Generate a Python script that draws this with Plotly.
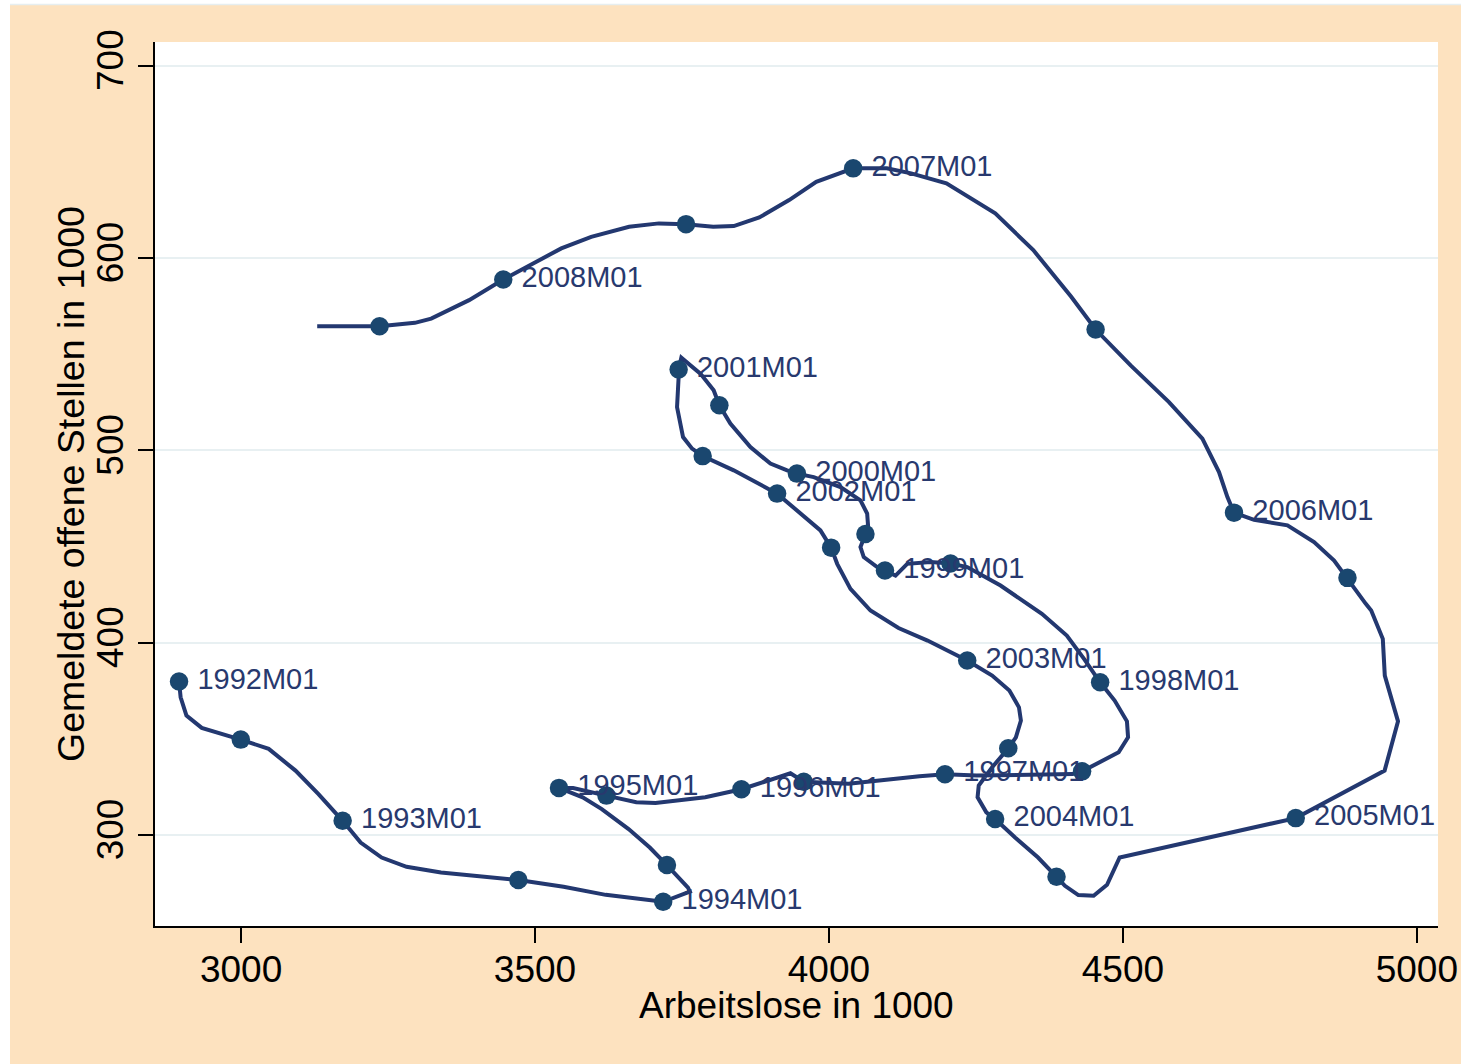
import plotly.graph_objects as go

# Beveridge curve path (Arbeitslose, offene Stellen, in 1000), 1992M01 -> 2008
path_x = [2894.5, 2897.2, 2907.1, 2933.1, 2999.5, 3047.0, 3092.6, 3131.7, 3172.8, 3203.4,
          3239.1, 3281.5, 3340.1, 3471.7, 3548.6, 3620.3, 3718.0, 3763.4, 3760.2, 3737.5,
          3724.4, 3695.2, 3659.2, 3613.6, 3581.1, 3540.8, 3564.8, 3621.5, 3672.3, 3704.9,
          3789.6, 3851.1, 3934.5, 3957.1, 4033.2, 4154.0, 4197.4, 4251.1, 4414.5, 4430.6,
          4492.8, 4508.8, 4506.9, 4486.0, 4461.3, 4433.9, 4404.6, 4362.2, 4329.7, 4291.9,
          4235.2, 4206.8, 4172.8, 4133.1, 4113.2, 4095.3, 4082.0, 4059.2, 4053.6, 4062.1,
          4066.7, 4065.0, 4053.6, 4019.6, 3974.1, 3945.5, 3928.9, 3900.4, 3866.4, 3832.3,
          3813.6, 3803.9, 3781.3, 3748.9, 3744.3, 3744.3, 3741.6, 3751.8, 3767.2, 3785.2,
          3838.0, 3911.8, 3951.5, 3985.5, 4003.7, 4014.0, 4036.6, 4070.6, 4118.3, 4167.7,
          4235.2, 4277.6, 4306.9, 4323.2, 4326.5, 4318.0, 4305.0, 4277.6, 4254.8, 4252.8,
          4267.7, 4282.7, 4316.6, 4355.7, 4387.1, 4401.4, 4424.2, 4450.2, 4473.0, 4494.5,
          4794.0, 4945.2, 4968.0, 4945.5, 4942.1, 4922.4, 4913.2, 4882.0, 4859.3, 4825.2,
          4779.9, 4723.1, 4689.0, 4677.8, 4663.5, 4635.2, 4578.4, 4513.2, 4453.6, 4412.1,
          4347.6, 4282.9, 4199.8, 4139.9, 4098.4, 4041.2, 3978.4, 3932.3, 3881.5, 3838.1,
          3803.1, 3756.9, 3710.8, 3660.1, 3595.6, 3544.7, 3446.0, 3387.9, 3323.4, 3295.7,
          3235.6, 3129.5]
path_y = [379.8, 371.6, 362.1, 355.7, 349.6, 344.8, 333.5, 321.3, 307.4, 296.1,
          288.3, 283.5, 280.5, 276.6, 273.1, 268.9, 265.3, 270.6, 272.7, 280.5,
          284.4, 293.5, 303.1, 313.5, 319.6, 324.5, 324.4, 320.5, 317.0, 316.6,
          319.6, 323.8, 332.1, 327.7, 326.7, 330.6, 331.6, 330.9, 331.7, 333.1,
          343.0, 350.8, 359.1, 369.9, 379.4, 391.6, 403.7, 415.0, 421.9, 429.7,
          439.3, 441.2, 441.9, 441.0, 434.9, 437.5, 439.3, 444.5, 449.7, 456.5,
          460.1, 467.1, 474.0, 480.9, 486.1, 487.9, 489.6, 493.1, 501.7, 513.9,
          523.4, 531.2, 539.9, 548.2, 542.0, 538.1, 522.5, 506.9, 500.9, 497.0,
          489.6, 477.5, 467.1, 458.4, 449.4, 441.0, 428.0, 416.7, 407.6, 401.1,
          390.7, 382.9, 375.1, 366.4, 359.5, 350.8, 345.1, 335.2, 325.7, 319.6,
          311.8, 308.3, 298.7, 288.3, 278.3, 273.6, 268.8, 268.4, 274.1, 288.3,
          308.8, 333.5, 359.1, 382.9, 402.0, 416.7, 420.2, 433.7, 442.7, 452.3,
          461.0, 463.9, 467.6, 475.7, 488.7, 506.1, 525.1, 544.2, 562.8, 579.8,
          604.1, 623.2, 638.8, 644.0, 646.6, 646.6, 639.6, 630.1, 621.1, 616.6,
          616.2, 617.6, 618.0, 616.2, 611.0, 605.0, 588.8, 578.1, 568.5, 566.3,
          564.5, 564.5]

# Half-yearly markers (January and July)
marker_x = [2894.5, 2999.5, 3172.8, 3471.7, 3718.0, 3724.4, 3540.8, 3621.5, 3851.1, 3957.1,
            4197.4, 4430.6, 4461.3, 4206.8, 4095.3, 4062.1, 3945.5, 3813.6, 3744.3, 3785.2,
            3911.8, 4003.7, 4235.2, 4305.0, 4282.7, 4387.1, 4794.0, 4882.0, 4689.0, 4453.6,
            4041.2, 3756.9, 3446.0, 3235.6]
marker_y = [379.8, 349.6, 307.4, 276.6, 265.3, 284.4, 324.5, 320.5, 323.8, 327.7,
            331.6, 333.1, 379.4, 441.2, 437.5, 456.5, 487.9, 523.4, 542.0, 497.0,
            477.5, 449.4, 390.7, 345.1, 308.3, 278.3, 308.8, 433.7, 467.6, 562.8,
            646.6, 617.6, 588.8, 564.5]
marker_labels = ["1992M01", "", "1993M01", "", "1994M01", "", "1995M01", "", "1996M01", "",
                 "1997M01", "", "1998M01", "", "1999M01", "", "2000M01", "", "2001M01", "",
                 "2002M01", "", "2003M01", "", "2004M01", "", "2005M01", "", "2006M01", "",
                 "2007M01", "", "2008M01", ""]

x_ticks = [3000, 3500, 4000, 4500, 5000]
y_ticks = [300, 400, 500, 600, 700]

W, H = 1461, 1064
ML, MR, MT, MB = 155, 23, 42, 138
PW, PH = W - ML - MR, H - MT - MB

LINE_C = "#233870"
MARK_C = "#1a476f"
TEXT_C = "#28396e"
BG = "#fde2bf"
FONT = "Liberation Sans, Arial, sans-serif"

fig = go.Figure()
fig.add_trace(go.Scatter(x=path_x, y=path_y, mode="lines",
                         line=dict(color=LINE_C, width=4), hoverinfo="skip",
                         showlegend=False))
fig.add_trace(go.Scatter(x=marker_x, y=marker_y, mode="markers+text",
                         text=["\u2009" + t if t else "" for t in marker_labels],
                         textposition="middle right",
                         textfont=dict(family=FONT, size=29, color=TEXT_C),
                         marker=dict(color=MARK_C, size=18.5, line=dict(width=0)),
                         showlegend=False))

def px_x(p):
    return (p - ML) / PW

def px_y(p):
    return (H - MB - p) / PH

shapes = [
    dict(type="rect", xref="paper", yref="paper", x0=px_x(0), x1=px_x(10),
         y0=px_y(H), y1=px_y(0), fillcolor="white", line=dict(width=0), layer="above"),
    dict(type="rect", xref="paper", yref="paper", x0=px_x(0), x1=px_x(W),
         y0=px_y(4), y1=px_y(0), fillcolor="white", line=dict(width=0), layer="above"),
    dict(type="line", xref="paper", yref="paper", x0=px_x(10), x1=px_x(W),
         y0=px_y(4.5), y1=px_y(4.5), line=dict(color="#e6eef0", width=1.5), layer="above"),
]

fig.update_layout(
    width=W, height=H, autosize=False,
    margin=dict(l=ML, r=MR, t=MT, b=MB, pad=0, autoexpand=False),
    paper_bgcolor=BG, plot_bgcolor="white",
    font=dict(family=FONT, color="black"),
    shapes=shapes,
    annotations=[
        dict(text="Arbeitslose in 1000", xref="paper", yref="paper", x=0.5, y=0,
             xanchor="center", yanchor="middle", yshift=-(1005 - (H - MB)),
             showarrow=False, font=dict(family=FONT, size=37, color="black")),
        dict(text="Gemeldete offene Stellen in 1000", xref="paper", yref="paper",
             x=0, y=0.5, xanchor="center", yanchor="middle", xshift=71 - ML,
             textangle=-90, showarrow=False,
             font=dict(family=FONT, size=37.5, color="black")),
    ],
)
fig.update_xaxes(range=[2853.6, 5036.0], tickvals=x_ticks, ticks="outside", ticklen=15,
                 tickwidth=2, tickcolor="black", showline=True, linecolor="black",
                 linewidth=2, showgrid=False, zeroline=False, ticklabelstandoff=-5,
                 automargin=False, ticklabeloverflow="allow",
                 tickfont=dict(family=FONT, size=37, color="black"))
fig.update_yaxes(range=[252.7, 712.3], tickvals=y_ticks, ticks="outside", ticklen=15,
                 tickwidth=2, tickcolor="black", showline=True, linecolor="black",
                 linewidth=2, showgrid=True, gridcolor="#e8f0f2", gridwidth=2,
                 zeroline=False, tickangle=-90, automargin=False,
                 tickfont=dict(family=FONT, size=37, color="black"))

fig.write_html("out.html", config={"displayModeBar": False},
               post_script="document.body.style.margin='0';")
